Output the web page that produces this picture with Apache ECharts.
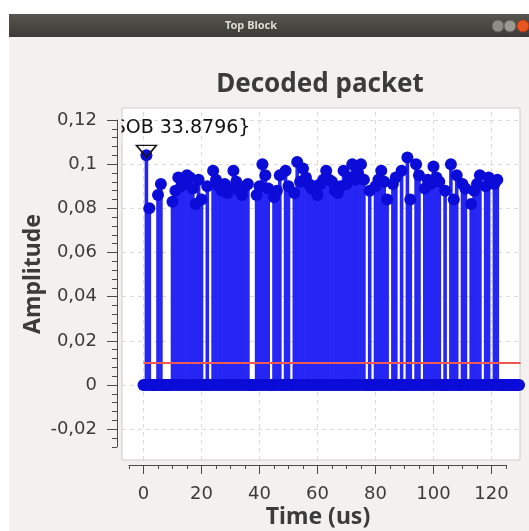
<!DOCTYPE html>
<html>
<head>
<meta charset="utf-8">
<title>Decoded packet</title>
<script src="https://cdn.jsdelivr.net/npm/echarts@6/dist/echarts.min.js"></script>
<style>
  html, body { margin: 0; padding: 0; background: #ffffff; }
  #chart { width: 529px; height: 531px; }
</style>
</head>
<body>
<div id="chart"></div>
<script>
// time sink sample period (us)
const samplePeriod = 0.5
// decoded packet, one amplitude per sample
const amplitude = [
  0, 0, 0.104, 0, 0.080, 0, 0, 0, 0, 0, 0.086, 0, 0.091, 0, 0, 0, 0, 0, 0, 0,
  0.083, 0, 0.088, 0, 0.094, 0, 0.090, 0, 0.092, 0, 0.095, 0, 0.094, 0, 0.089, 0, 0.082, 0, 0.093, 0,
  0.084, 0, 0, 0, 0.090, 0, 0, 0, 0.097, 0, 0.093, 0, 0.090, 0, 0.088, 0, 0.091, 0, 0.087, 0,
  0.089, 0, 0.097, 0, 0.092, 0, 0.088, 0, 0.086, 0, 0.090, 0, 0.091, 0, 0, 0, 0, 0, 0.086, 0,
  0.090, 0, 0.100, 0, 0.095, 0, 0.089, 0, 0, 0, 0.085, 0, 0.088, 0, 0.095, 0, 0, 0, 0.097, 0,
  0.090, 0, 0, 0, 0.087, 0, 0.101, 0, 0.092, 0, 0.098, 0, 0.094, 0, 0.091, 0, 0.089, 0, 0.090, 0,
  0.086, 0, 0.091, 0, 0.093, 0, 0.097, 0, 0.093, 0, 0.092, 0, 0.088, 0, 0.087, 0, 0.090, 0, 0.097, 0,
  0.091, 0, 0.094, 0, 0.100, 0, 0.093, 0, 0.096, 0, 0.100, 0, 0.093, 0, 0, 0, 0.088, 0, 0, 0,
  0.090, 0, 0.093, 0, 0.097, 0, 0.092, 0, 0.084, 0, 0, 0, 0.091, 0, 0.094, 0, 0, 0, 0.097, 0,
  0, 0, 0.103, 0, 0.084, 0, 0, 0, 0.100, 0, 0.095, 0, 0, 0, 0.089, 0, 0.093, 0, 0.091, 0,
  0.099, 0, 0.094, 0, 0.092, 0, 0, 0, 0.088, 0, 0, 0, 0.100, 0, 0.084, 0, 0.095, 0, 0, 0,
  0.091, 0, 0.089, 0, 0, 0, 0.082, 0, 0.088, 0, 0.091, 0, 0.095, 0, 0, 0, 0.090, 0, 0.094, 0,
  0, 0, 0.091, 0, 0.093, 0, 0, 0, 0, 0, 0, 0, 0, 0, 0, 0, 0, 0, 0, 0,
  0
]
// threshold trace (second channel)
const thresholdTimes = [0, 130]
const thresholdValues = [0.01, 0.01]
// stream tag
const tagSample = 2
const tagText = '{SOB 33.8796}'
// grid / tick values
const xMajor = [0, 20, 40, 60, 80, 100, 120]
const yMajor = [-0.02, 0, 0.02, 0.04, 0.06, 0.08, 0.1, 0.12]

const points = amplitude.map((v, i) => [i * samplePeriod, v])
const threshold = thresholdTimes.map((t, i) => [t, thresholdValues[i]])
const tagPoint = [tagSample * samplePeriod, amplitude[tagSample]]

const TXT = '#3b3b3b'
const STEM = '#2626f4'
const LABEL_FONT = 'DejaVu Sans'
const TITLE_FONT = 'Noto Sans'
const stemWidth = 3.6

const chart = echarts.init(document.getElementById('chart'))

const hiddenAxis = (grid) => ({ type: 'value', gridIndex: grid, show: false, min: 0, max: 1, splitLine: { show: false } })

const option = {
  animation: false,
  backgroundColor: '#f2f1f0',
  grid: [
    // plot canvas
    { left: 122, top: 108, width: 398, height: 352, show: true, backgroundColor: '#ffffff', borderColor: '#cbcbcb', borderWidth: 1 },
    // y scale: backbone + minor ticks
    { left: 117, top: 120, width: 10, height: 326.8 },
    // y scale: major ticks + labels
    { left: 117, top: 120, width: 10, height: 309.2 },
    // x scale: backbone + minor ticks
    { left: 129, top: 455, width: 377, height: 10 },
    // x scale: major ticks + labels
    { left: 143.5, top: 455, width: 348, height: 10 }
  ],
  xAxis: [
    { type: 'value', gridIndex: 0, show: false, min: -7.414, max: 129.83, splitLine: { show: false } },
    hiddenAxis(1),
    hiddenAxis(2),
    {
      type: 'value', gridIndex: 3, min: -5, max: 125, interval: 5, z: 10,
      axisLine: { show: true, lineStyle: { color: '#4a4a4a', width: 1 } },
      axisTick: { show: true, length: 4, lineStyle: { color: '#4a4a4a' } },
      axisLabel: { show: false },
      splitLine: { show: false }
    },
    {
      type: 'value', gridIndex: 4, min: 0, max: 120, interval: 20, z: 10,
      axisLine: { show: false },
      axisTick: { show: true, length: 9, lineStyle: { color: '#4a4a4a' } },
      axisLabel: { show: true, margin: 20, color: TXT, fontFamily: LABEL_FONT, fontSize: 18 },
      splitLine: { show: false }
    }
  ],
  yAxis: [
    { type: 'value', gridIndex: 0, show: false, min: -0.03396, max: 0.12544, splitLine: { show: false } },
    {
      type: 'value', gridIndex: 1, min: -0.028, max: 0.12, interval: 0.004, z: 10,
      axisLine: { show: true, lineStyle: { color: '#4a4a4a', width: 1 } },
      axisTick: { show: true, length: 5, lineStyle: { color: '#4a4a4a' } },
      axisLabel: { show: false },
      splitLine: { show: false }
    },
    {
      type: 'value', gridIndex: 2, min: -0.02, max: 0.12, interval: 0.02, z: 10,
      axisLine: { show: false },
      axisTick: { show: true, length: 10, lineStyle: { color: '#4a4a4a' } },
      axisLabel: {
        show: true, margin: 20, color: TXT, fontFamily: LABEL_FONT, fontSize: 18,
        formatter: (v) => String(Number(v.toFixed(2))).replace('.', ',')
      },
      splitLine: { show: false }
    },
    hiddenAxis(3),
    hiddenAxis(4)
  ],
  graphic: [
    { type: 'rect', shape: { x: 0, y: 0, width: 529, height: 14 }, style: { fill: '#ffffff' }, silent: true },
    { type: 'rect', shape: { x: 0, y: 0, width: 9, height: 531 }, style: { fill: '#ffffff' }, silent: true },
    {
      type: 'rect', shape: { x: 9, y: 14, width: 520, height: 23 }, silent: true,
      style: { fill: new echarts.graphic.LinearGradient(0, 0, 0, 1, [{ offset: 0, color: '#57554f' }, { offset: 1, color: '#3b3a36' }]) }
    },
    { type: 'text', x: 251, y: 26, silent: true, style: { text: 'Top Block', fill: '#dfdbd2', font: 'bold 11px "Noto Sans"', textAlign: 'center', textVerticalAlign: 'middle' } },
    { type: 'circle', shape: { cx: 498, cy: 26, r: 6 }, style: { fill: '#8e8c87', stroke: '#5e5c57', lineWidth: 1 }, silent: true },
    { type: 'circle', shape: { cx: 510, cy: 26, r: 6 }, style: { fill: '#9a9893', stroke: '#5e5c57', lineWidth: 1 }, silent: true },
    { type: 'circle', shape: { cx: 523, cy: 26, r: 6 }, style: { fill: '#e9531f', stroke: '#a83a14', lineWidth: 1 }, silent: true },
    { type: 'text', x: 320, y: 85, silent: true, style: { text: 'Decoded packet', fill: TXT, font: 'bold 26px "' + TITLE_FONT + '"', textAlign: 'center', textVerticalAlign: 'middle' } },
    { type: 'text', x: 318, y: 517, silent: true, style: { text: 'Time (us)', fill: TXT, font: 'bold 23px "' + TITLE_FONT + '"', textAlign: 'center', textVerticalAlign: 'middle' } },
    { type: 'text', x: 33, y: 274, rotation: Math.PI / 2, silent: true, style: { text: 'Amplitude', fill: TXT, font: 'bold 23px "' + TITLE_FONT + '"', textAlign: 'center', textVerticalAlign: 'middle' } },
    // hides the part of the tag text that lies left of the canvas
    { type: 'rect', z: 8, shape: { x: 100, y: 115, width: 21.5, height: 27 }, style: { fill: '#f2f1f0' }, silent: true }
  ],
  series: [
    {
      // grid lines
      type: 'scatter', xAxisIndex: 0, yAxisIndex: 0, z: 1, symbolSize: 0, data: [[0, 0]], silent: true,
      markLine: {
        z: 1, silent: true, symbol: ['none', 'none'], label: { show: false },
        lineStyle: { color: '#dadada', type: [4, 4], width: 1 },
        data: xMajor.map((v) => ({ xAxis: v })).concat(yMajor.map((v) => ({ yAxis: v })))
      }
    },
    {
      // stems
      type: 'custom', xAxisIndex: 0, yAxisIndex: 0, z: 2, data: points, clip: true, silent: true,
      renderItem: (params, api) => {
        const v = api.value(1)
        if (!v) return null
        const top = api.coord([api.value(0), v])
        const base = api.coord([api.value(0), 0])
        return {
          type: 'rect',
          shape: { x: top[0] - stemWidth / 2, y: top[1], width: stemWidth, height: base[1] - top[1] },
          style: { fill: STEM }
        }
      }
    },
    {
      type: 'line', xAxisIndex: 0, yAxisIndex: 0, z: 3, data: threshold, showSymbol: false,
      lineStyle: { color: '#ee5a4f', width: 2 }, silent: true
    },
    {
      // stem heads
      type: 'scatter', xAxisIndex: 0, yAxisIndex: 0, z: 4, data: points, symbolSize: 12,
      itemStyle: { color: '#0c0cd8', opacity: 1 }, silent: true
    },
    {
      // stream tag marker
      type: 'scatter', xAxisIndex: 0, yAxisIndex: 0, z: 5, data: [tagPoint],
      symbol: 'triangle', symbolRotate: 180, symbolSize: [20, 12], symbolOffset: [0, -4],
      itemStyle: { color: 'rgba(0,0,0,0)', borderColor: '#151515', borderWidth: 1.5, opacity: 1 },
      label: {
        show: true, formatter: tagText, position: 'inside', align: 'right', verticalAlign: 'middle',
        offset: [104, -23], color: '#111111', fontFamily: LABEL_FONT, fontSize: 19
      },
      silent: true
    }
  ]
}

chart.setOption(option)
</script>
</body>
</html>
